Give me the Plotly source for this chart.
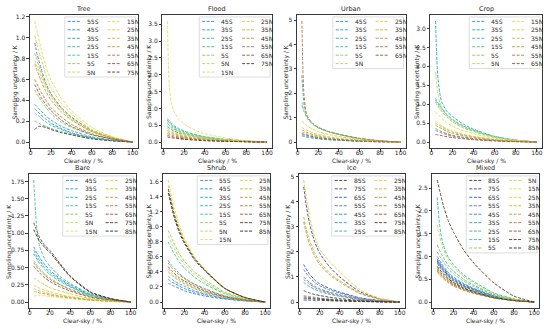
import math
import plotly.graph_objects as go

W, H = 550, 329
FONT = "DejaVu Sans"

# ---------------- data ----------------
X = [4, 5, 6, 8, 10, 15, 20, 30, 40, 60, 80, 100]
XTICKS = [0, 20, 40, 60, 80, 100]
TITLES = ["Tree", "Flood", "Urban", "Crop", "Bare", "Shrub", "Ice", "Mixed"]
Y_DTICKS = [0.2, 0.5, 1, 0.5, 0.25, 0.2, 1, 0.5]
Y_FORMATS = [".1f", ".1f", "d", ".1f", ".2f", ".1f", "d", ".1f"]

TREE_LATS = ["55S", "45S", "35S", "25S", "15S", "5S", "5N", "15N", "25N", "35N", "45N", "55N", "65N", "75N"]
TREE_VALUES = [
    [0.32, 0.31, 0.30, 0.28, 0.26, 0.22, 0.18, 0.13, 0.09, 0.04, 0.015, 0],
    [0.95, 0.90, 0.85, 0.78, 0.71, 0.56, 0.46, 0.33, 0.24, 0.11, 0.04, 0],
    [0.36, 0.35, 0.34, 0.32, 0.30, 0.25, 0.21, 0.15, 0.11, 0.05, 0.02, 0],
    [0.28, 0.27, 0.26, 0.25, 0.23, 0.19, 0.16, 0.12, 0.08, 0.04, 0.015, 0],
    [0.20, 0.20, 0.19, 0.18, 0.17, 0.15, 0.13, 0.10, 0.07, 0.035, 0.013, 0],
    [0.50, 0.48, 0.46, 0.43, 0.40, 0.33, 0.27, 0.19, 0.14, 0.07, 0.03, 0],
    [0.78, 0.76, 0.73, 0.68, 0.63, 0.52, 0.43, 0.31, 0.22, 0.10, 0.04, 0],
    [1.16, 1.11, 1.07, 0.99, 0.90, 0.72, 0.59, 0.42, 0.30, 0.14, 0.05, 0],
    [1.02, 0.98, 0.94, 0.87, 0.80, 0.64, 0.52, 0.37, 0.27, 0.12, 0.05, 0],
    [0.85, 0.82, 0.79, 0.73, 0.67, 0.54, 0.45, 0.32, 0.23, 0.11, 0.04, 0],
    [0.75, 0.72, 0.69, 0.64, 0.59, 0.48, 0.40, 0.29, 0.21, 0.10, 0.04, 0],
    [0.60, 0.58, 0.56, 0.52, 0.48, 0.40, 0.33, 0.24, 0.17, 0.08, 0.03, 0],
    [0.55, 0.53, 0.51, 0.47, 0.43, 0.36, 0.30, 0.21, 0.15, 0.07, 0.03, 0],
    [0.12, 0.13, 0.14, 0.15, 0.15, 0.14, 0.12, 0.09, 0.07, 0.03, 0.012, 0],
]

FLOOD_LATS = ["45S", "35S", "25S", "15S", "5S", "5N", "15N", "25N", "35N", "45N", "55N", "65N", "75N"]
FLOOD_VALUES = [
    [0.45, 0.43, 0.41, 0.37, 0.33, 0.27, 0.22, 0.15, 0.11, 0.05, 0.02, 0],
    [0.55, 0.52, 0.49, 0.44, 0.40, 0.32, 0.26, 0.18, 0.13, 0.06, 0.02, 0],
    [0.65, 0.61, 0.58, 0.52, 0.47, 0.37, 0.30, 0.21, 0.15, 0.07, 0.03, 0],
    [0.70, 0.66, 0.62, 0.56, 0.50, 0.40, 0.33, 0.23, 0.16, 0.08, 0.03, 0],
    [0.60, 0.57, 0.54, 0.48, 0.44, 0.35, 0.28, 0.20, 0.14, 0.07, 0.025, 0],
    [0.50, 0.47, 0.45, 0.41, 0.37, 0.29, 0.24, 0.17, 0.12, 0.06, 0.02, 0],
    [3.60, 2.30, 1.60, 1.15, 0.93, 0.68, 0.54, 0.36, 0.25, 0.12, 0.045, 0],
    [0.40, 0.38, 0.36, 0.33, 0.30, 0.24, 0.20, 0.14, 0.10, 0.05, 0.02, 0],
    [0.35, 0.33, 0.32, 0.29, 0.26, 0.21, 0.17, 0.12, 0.09, 0.04, 0.015, 0],
    [0.30, 0.29, 0.27, 0.25, 0.23, 0.18, 0.15, 0.11, 0.08, 0.04, 0.015, 0],
    [0.25, 0.24, 0.23, 0.21, 0.19, 0.15, 0.13, 0.09, 0.06, 0.03, 0.01, 0],
    [0.20, 0.19, 0.18, 0.17, 0.15, 0.12, 0.10, 0.07, 0.05, 0.025, 0.01, 0],
    [0.15, 0.14, 0.14, 0.13, 0.12, 0.10, 0.08, 0.06, 0.04, 0.02, 0.008, 0],
]

URBAN_LATS = ["45S", "35S", "25S", "15S", "5S", "5N", "25N", "35N", "45N", "55N", "65N"]
URBAN_VALUES = [
    [0.25, 0.24, 0.23, 0.21, 0.20, 0.16, 0.13, 0.09, 0.07, 0.03, 0.01, 0],
    [0.30, 0.29, 0.28, 0.26, 0.24, 0.19, 0.16, 0.11, 0.08, 0.04, 0.013, 0],
    [2.75, 2.10, 1.60, 1.20, 0.98, 0.74, 0.60, 0.43, 0.32, 0.15, 0.05, 0],
    [1.50, 1.38, 1.27, 1.08, 0.93, 0.71, 0.58, 0.42, 0.31, 0.14, 0.05, 0],
    [1.62, 1.50, 1.38, 1.15, 0.97, 0.74, 0.60, 0.43, 0.32, 0.15, 0.05, 0],
    [0.85, 0.82, 0.78, 0.71, 0.64, 0.52, 0.43, 0.31, 0.23, 0.11, 0.04, 0],
    [0.60, 0.58, 0.55, 0.50, 0.46, 0.37, 0.31, 0.22, 0.16, 0.08, 0.03, 0],
    [0.42, 0.40, 0.39, 0.35, 0.32, 0.26, 0.22, 0.15, 0.11, 0.05, 0.02, 0],
    [0.50, 0.48, 0.46, 0.42, 0.38, 0.31, 0.26, 0.18, 0.13, 0.06, 0.02, 0],
    [4.97, 3.00, 2.00, 1.25, 1.00, 0.75, 0.60, 0.43, 0.32, 0.15, 0.05, 0],
    [0.35, 0.34, 0.32, 0.30, 0.27, 0.22, 0.18, 0.13, 0.09, 0.04, 0.015, 0],
]

CROP_LATS = ["45S", "35S", "25S", "15S", "5S", "5N", "15N", "25N", "35N", "45N", "55N", "65N"]
CROP_VALUES = [
    [0.35, 0.34, 0.32, 0.30, 0.27, 0.22, 0.18, 0.13, 0.09, 0.04, 0.015, 0],
    [3.20, 2.40, 1.80, 1.30, 1.05, 0.80, 0.68, 0.48, 0.34, 0.15, 0.05, 0],
    [1.15, 1.10, 1.05, 0.98, 0.90, 0.72, 0.60, 0.43, 0.31, 0.14, 0.05, 0],
    [1.10, 1.06, 1.02, 0.94, 0.86, 0.70, 0.58, 0.41, 0.30, 0.13, 0.05, 0],
    [1.05, 1.00, 0.96, 0.88, 0.80, 0.65, 0.54, 0.38, 0.28, 0.12, 0.045, 0],
    [1.85, 1.55, 1.30, 1.05, 0.90, 0.70, 0.58, 0.41, 0.30, 0.13, 0.05, 0],
    [0.80, 0.77, 0.74, 0.68, 0.62, 0.50, 0.42, 0.30, 0.22, 0.10, 0.04, 0],
    [0.55, 0.53, 0.51, 0.47, 0.43, 0.35, 0.29, 0.21, 0.15, 0.07, 0.025, 0],
    [0.50, 0.48, 0.46, 0.43, 0.39, 0.32, 0.26, 0.19, 0.14, 0.06, 0.02, 0],
    [0.45, 0.43, 0.41, 0.38, 0.35, 0.28, 0.23, 0.17, 0.12, 0.055, 0.02, 0],
    [0.30, 0.29, 0.28, 0.26, 0.24, 0.19, 0.16, 0.11, 0.08, 0.04, 0.013, 0],
    [0.20, 0.20, 0.19, 0.18, 0.17, 0.14, 0.12, 0.09, 0.06, 0.03, 0.01, 0],
]

BARE_LATS = ["45S", "35S", "25S", "15S", "5S", "5N", "15N", "25N", "35N", "45N", "55N", "65N", "75N", "85N"]
BARE_VALUES = [
    [0.80, 0.77, 0.74, 0.69, 0.64, 0.54, 0.46, 0.34, 0.25, 0.11, 0.04, 0],
    [0.75, 0.72, 0.69, 0.64, 0.60, 0.50, 0.43, 0.32, 0.23, 0.10, 0.04, 0],
    [0.70, 0.67, 0.65, 0.60, 0.56, 0.47, 0.40, 0.30, 0.22, 0.10, 0.035, 0],
    [1.77, 1.50, 1.25, 0.95, 0.80, 0.62, 0.52, 0.37, 0.27, 0.12, 0.045, 0],
    [0.60, 0.58, 0.56, 0.52, 0.48, 0.41, 0.35, 0.26, 0.19, 0.09, 0.03, 0],
    [0.35, 0.34, 0.33, 0.31, 0.29, 0.25, 0.21, 0.16, 0.12, 0.05, 0.02, 0],
    [0.08, 0.09, 0.09, 0.10, 0.10, 0.09, 0.08, 0.065, 0.05, 0.025, 0.01, 0],
    [0.24, 0.23, 0.23, 0.21, 0.20, 0.17, 0.15, 0.11, 0.08, 0.04, 0.015, 0],
    [0.19, 0.19, 0.18, 0.17, 0.16, 0.14, 0.12, 0.09, 0.07, 0.03, 0.012, 0],
    [0.15, 0.15, 0.15, 0.14, 0.13, 0.12, 0.10, 0.08, 0.06, 0.03, 0.01, 0],
    [0.57, 0.55, 0.53, 0.49, 0.46, 0.39, 0.33, 0.25, 0.18, 0.08, 0.03, 0],
    [0.52, 0.50, 0.48, 0.45, 0.42, 0.35, 0.30, 0.22, 0.16, 0.07, 0.03, 0],
    [1.15, 1.11, 1.07, 1.00, 0.93, 0.82, 0.75, 0.56, 0.38, 0.15, 0.05, 0],
    [1.05, 1.02, 0.99, 0.93, 0.88, 0.79, 0.72, 0.54, 0.37, 0.14, 0.05, 0],
]

SHRUB_LATS = ["55S", "45S", "35S", "25S", "15S", "5S", "5N", "15N", "25N", "35N", "45N", "55N", "65N", "75N", "85N"]
SHRUB_VALUES = [
    [0.30, 0.29, 0.28, 0.26, 0.25, 0.21, 0.18, 0.13, 0.10, 0.045, 0.017, 0],
    [0.25, 0.24, 0.24, 0.22, 0.21, 0.18, 0.15, 0.11, 0.08, 0.04, 0.015, 0],
    [0.34, 0.33, 0.32, 0.30, 0.28, 0.24, 0.21, 0.15, 0.11, 0.05, 0.02, 0],
    [0.55, 0.53, 0.51, 0.48, 0.45, 0.38, 0.32, 0.24, 0.18, 0.08, 0.03, 0],
    [0.80, 0.77, 0.74, 0.69, 0.64, 0.53, 0.45, 0.33, 0.24, 0.11, 0.04, 0],
    [0.95, 0.92, 0.89, 0.83, 0.77, 0.64, 0.54, 0.40, 0.30, 0.13, 0.05, 0],
    [0.88, 0.85, 0.82, 0.76, 0.71, 0.59, 0.50, 0.37, 0.27, 0.12, 0.045, 0],
    [1.62, 1.55, 1.48, 1.36, 1.25, 1.02, 0.85, 0.60, 0.44, 0.19, 0.06, 0],
    [1.55, 1.48, 1.42, 1.30, 1.19, 0.98, 0.82, 0.58, 0.42, 0.18, 0.06, 0],
    [0.44, 0.43, 0.41, 0.38, 0.36, 0.30, 0.26, 0.19, 0.14, 0.065, 0.025, 0],
    [0.40, 0.39, 0.37, 0.35, 0.33, 0.28, 0.24, 0.18, 0.13, 0.06, 0.02, 0],
    [0.52, 0.50, 0.48, 0.45, 0.42, 0.36, 0.31, 0.23, 0.17, 0.08, 0.03, 0],
    [0.47, 0.45, 0.44, 0.41, 0.38, 0.32, 0.28, 0.21, 0.15, 0.07, 0.025, 0],
    [1.50, 1.44, 1.38, 1.27, 1.16, 0.95, 0.80, 0.58, 0.43, 0.18, 0.06, 0],
    [1.45, 1.39, 1.33, 1.22, 1.12, 0.92, 0.78, 0.56, 0.42, 0.18, 0.06, 0],
]

ICE_LATS = ["85S", "75S", "65S", "55S", "45S", "35S", "25S", "25N", "35N", "45N", "55N", "65N", "75N", "85N"]
ICE_VALUES = [
    [0.08, 0.08, 0.08, 0.08, 0.08, 0.07, 0.07, 0.05, 0.04, 0.02, 0.008, 0],
    [4.60, 4.30, 4.00, 3.50, 3.10, 2.40, 1.95, 1.40, 1.00, 0.42, 0.13, 0],
    [1.50, 1.42, 1.35, 1.22, 1.10, 0.88, 0.73, 0.54, 0.40, 0.17, 0.06, 0],
    [1.30, 1.24, 1.18, 1.07, 0.97, 0.78, 0.65, 0.48, 0.36, 0.15, 0.05, 0],
    [1.00, 0.96, 0.92, 0.84, 0.77, 0.63, 0.53, 0.39, 0.29, 0.12, 0.04, 0],
    [0.78, 0.75, 0.72, 0.66, 0.61, 0.50, 0.42, 0.31, 0.23, 0.10, 0.035, 0],
    [0.25, 0.25, 0.24, 0.23, 0.22, 0.19, 0.16, 0.12, 0.09, 0.04, 0.015, 0],
    [4.87, 4.60, 4.35, 3.85, 3.40, 2.60, 2.10, 1.60, 1.20, 0.50, 0.15, 0],
    [3.40, 3.20, 3.00, 2.70, 2.45, 1.95, 1.60, 1.15, 0.85, 0.36, 0.12, 0],
    [3.20, 3.02, 2.85, 2.55, 2.30, 1.82, 1.50, 1.08, 0.80, 0.34, 0.11, 0],
    [0.90, 0.87, 0.83, 0.77, 0.71, 0.58, 0.48, 0.35, 0.26, 0.11, 0.04, 0],
    [0.20, 0.20, 0.20, 0.19, 0.18, 0.16, 0.14, 0.10, 0.08, 0.035, 0.012, 0],
    [0.45, 0.44, 0.42, 0.39, 0.36, 0.30, 0.26, 0.19, 0.14, 0.06, 0.02, 0],
    [0.15, 0.15, 0.15, 0.14, 0.14, 0.12, 0.11, 0.08, 0.06, 0.03, 0.01, 0],
]

MIXED_LATS = ["85S", "75S", "65S", "55S", "45S", "35S", "25S", "15S", "5S",
              "5N", "15N", "25N", "35N", "45N", "55N", "65N", "75N", "85N"]
MIXED_VALUES = [
    [0.90, 0.86, 0.83, 0.77, 0.71, 0.58, 0.49, 0.36, 0.27, 0.12, 0.04, 0],
    [0.85, 0.82, 0.78, 0.72, 0.67, 0.55, 0.46, 0.34, 0.25, 0.11, 0.04, 0],
    [0.95, 0.91, 0.87, 0.81, 0.75, 0.62, 0.52, 0.39, 0.29, 0.13, 0.045, 0],
    [1.00, 0.96, 0.92, 0.85, 0.79, 0.65, 0.55, 0.41, 0.30, 0.14, 0.05, 0],
    [0.92, 0.88, 0.85, 0.78, 0.72, 0.60, 0.50, 0.37, 0.28, 0.13, 0.045, 0],
    [0.88, 0.84, 0.81, 0.75, 0.69, 0.57, 0.48, 0.35, 0.26, 0.12, 0.04, 0],
    [2.30, 2.00, 1.75, 1.45, 1.25, 0.98, 0.82, 0.60, 0.45, 0.20, 0.07, 0],
    [1.25, 1.20, 1.15, 1.06, 0.98, 0.80, 0.68, 0.50, 0.37, 0.17, 0.06, 0],
    [1.10, 1.06, 1.02, 0.95, 0.88, 0.73, 0.62, 0.46, 0.34, 0.16, 0.055, 0],
    [1.70, 1.58, 1.47, 1.30, 1.16, 0.92, 0.77, 0.56, 0.42, 0.19, 0.065, 0],
    [0.80, 0.77, 0.74, 0.68, 0.63, 0.52, 0.44, 0.32, 0.24, 0.11, 0.04, 0],
    [0.75, 0.72, 0.69, 0.64, 0.59, 0.49, 0.41, 0.30, 0.22, 0.10, 0.035, 0],
    [0.70, 0.67, 0.65, 0.60, 0.55, 0.45, 0.38, 0.28, 0.21, 0.09, 0.03, 0],
    [0.65, 0.62, 0.60, 0.55, 0.51, 0.42, 0.35, 0.26, 0.19, 0.09, 0.03, 0],
    [0.68, 0.65, 0.63, 0.58, 0.54, 0.44, 0.37, 0.27, 0.20, 0.09, 0.03, 0],
    [0.73, 0.70, 0.67, 0.62, 0.58, 0.47, 0.40, 0.29, 0.21, 0.10, 0.035, 0],
    [2.68, 2.58, 2.48, 2.30, 2.12, 1.78, 1.54, 1.15, 0.86, 0.42, 0.13, 0],
    [0.78, 0.75, 0.72, 0.67, 0.62, 0.51, 0.43, 0.31, 0.23, 0.10, 0.035, 0],
]

# ---------------- style ----------------
LAT_COLORS = {
    "85S": "#45455a", "75S": "#50509e", "65S": "#4a62c2", "55S": "#4f80dc",
    "45S": "#3f90d8", "35S": "#2fa8d8", "25S": "#3cbcb4", "15S": "#50c490",
    "5S": "#8ccf68", "5N": "#c4dc58", "15N": "#e6e062", "25N": "#e0d448",
    "35N": "#ccbc40", "45N": "#c4a048", "55N": "#bc8050", "65N": "#a06048",
    "75N": "#704830", "85N": "#383838",
}
DASH = "3px,1.5px"

PANELS = [
    (TREE_LATS, TREE_VALUES), (FLOOD_LATS, FLOOD_VALUES),
    (URBAN_LATS, URBAN_VALUES), (CROP_LATS, CROP_VALUES),
    (BARE_LATS, BARE_VALUES), (SHRUB_LATS, SHRUB_VALUES),
    (ICE_LATS, ICE_VALUES), (MIXED_LATS, MIXED_VALUES),
]
# axes boxes in pixels: left, right, top, bottom
BOXES = [(29, 137, 13, 147), (162, 272, 13, 147), (297, 406, 13, 147), (431, 543, 13, 147),
         (28, 135, 173, 308), (163, 270, 173, 308), (299, 405, 173, 308), (433, 540, 173, 308)]
YLABEL_OFF = [15, 14, 11, 14, 20, 14, 11, 14]


def px(xp):
    return xp / W


def py(yp):
    return 1 - yp / H


fig = go.Figure()
layout = dict(
    width=W, height=H, margin=dict(l=0, r=0, t=0, b=0),
    paper_bgcolor="white", plot_bgcolor="white", showlegend=False,
    font=dict(family=FONT, size=6, color="#262626"),
)
shapes, annotations = [], []

for i, ((lats, vals), (L, R, T, B)) in enumerate(zip(PANELS, BOXES)):
    k = "" if i == 0 else str(i + 1)
    for lat, v in zip(lats, vals):
        fig.add_trace(go.Scatter(
            x=X, y=v, mode="lines", name=lat, xaxis="x" + k, yaxis="y" + k,
            line=dict(color=LAT_COLORS[lat], width=1, dash=DASH, shape="spline", smoothing=0.6),
            hoverinfo="skip",
        ))
    ymax = max(max(v) for v in vals)
    ymin = min(min(v) for v in vals)
    span = ymax - ymin
    axis_common = dict(showline=True, mirror=True, linecolor="#3a3a3a", linewidth=0.8,
                       ticks="outside", ticklen=2.5, tickwidth=0.8, tickcolor="#3a3a3a",
                       showgrid=False, zeroline=False,
                       tickfont=dict(family=FONT, size=6, color="#262626"))
    layout["xaxis" + k] = dict(axis_common, domain=[px(L), px(R)], anchor="y" + k,
                               range=[-0.8, 104.8], tickvals=XTICKS, ticklabelstandoff=-4)
    layout["yaxis" + k] = dict(axis_common, domain=[py(B), py(T)], anchor="x" + k,
                               range=[ymin - 0.05 * span, ymax + 0.05 * span],
                               tick0=0, dtick=Y_DTICKS[i], tickformat=Y_FORMATS[i])
    # titles and axis labels
    annotations.append(dict(text=TITLES[i], x=px((L + R) / 2), y=py(T - 5.5), xref="paper", yref="paper",
                            xanchor="center", yanchor="middle", showarrow=False,
                            font=dict(family=FONT, size=6.5, color="#262626")))
    annotations.append(dict(text="Clear-sky / %", x=px((L + R) / 2), y=py(B + 12.5), xref="paper", yref="paper",
                            xanchor="center", yanchor="middle", showarrow=False,
                            font=dict(family=FONT, size=6, color="#262626")))
    annotations.append(dict(text="Sampling uncertainty / K", x=px(L - YLABEL_OFF[i]), y=py((T + B) / 2),
                            xref="paper", yref="paper", xanchor="center", yanchor="middle",
                            textangle=-90, showarrow=False,
                            font=dict(family=FONT, size=6, color="#262626")))
    # legend (two columns, column-major like matplotlib)
    n = len(lats)
    nrow = math.ceil(n / 2)
    bx0, bx1 = R - 73, R - 2
    by0 = T + 2
    cy0 = T + 6.5
    step = 8.5
    by1 = cy0 + (nrow - 1) * step + 5
    shapes.append(dict(type="rect", xref="paper", yref="paper", x0=px(bx0), x1=px(bx1),
                       y0=py(by1), y1=py(by0), fillcolor="rgba(255,255,255,0.8)",
                       line=dict(color="#d4d4d4", width=0.8), layer="above"))
    for j, lat in enumerate(lats):
        col, row = divmod(j, nrow)
        cy = cy0 + row * step
        sx = bx0 + 3 + col * 40
        shapes.append(dict(type="line", xref="paper", yref="paper", x0=px(sx), x1=px(sx + 12),
                           y0=py(cy), y1=py(cy), layer="above",
                           line=dict(color=LAT_COLORS[lat], width=1, dash=DASH)))
        annotations.append(dict(text=lat, x=px(sx + 17), y=py(cy), xref="paper", yref="paper",
                                xanchor="left", yanchor="middle", showarrow=False,
                                font=dict(family=FONT, size=6, color="#262626")))

layout["shapes"] = shapes
layout["annotations"] = annotations
fig.update_layout(**layout)
fig.write_html("out.html", config={"displayModeBar": False},
               post_script="document.body.style.margin='0px';document.body.style.padding='0px';")
